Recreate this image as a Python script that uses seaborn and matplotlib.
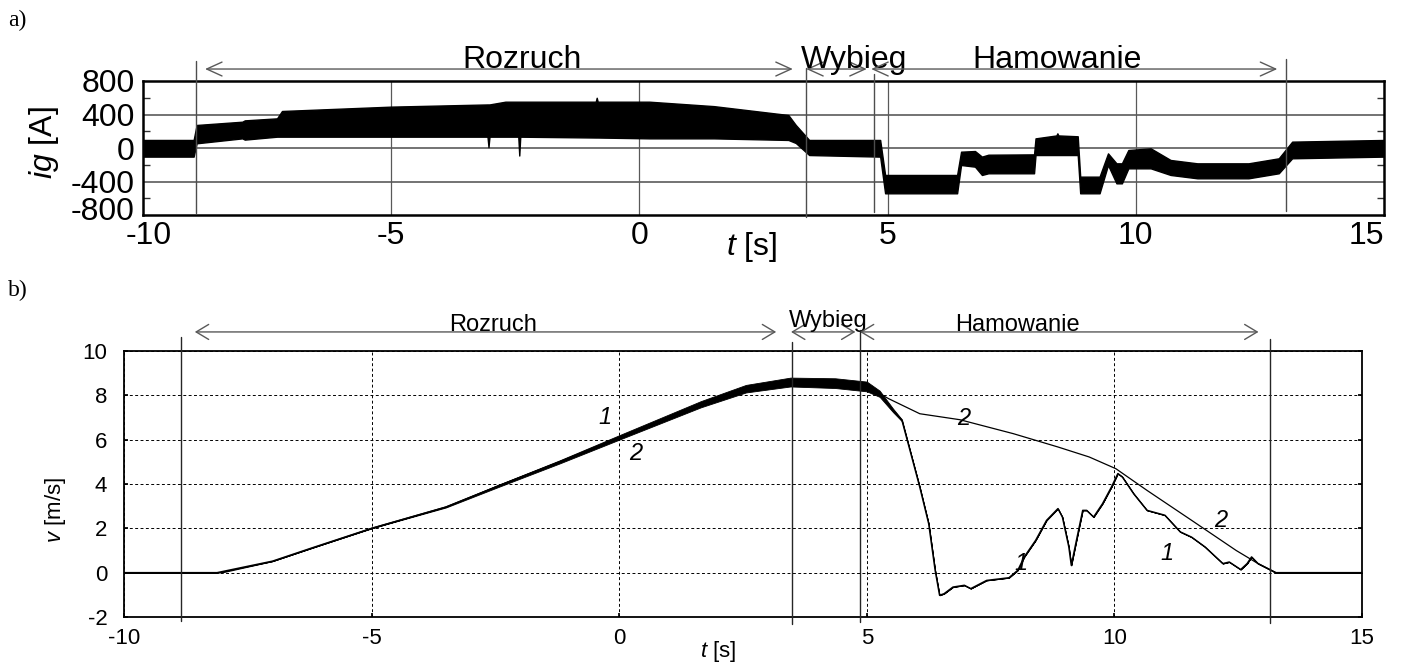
import matplotlib
matplotlib.use("Agg")
import matplotlib.pyplot as plt
import matplotlib.transforms as mtransforms
import seaborn as sns
import numpy as np
import pandas as pd

# ---------------- data ----------------
# a) generator current i_g : upper / lower envelope of the noisy band [A]
t_ig = [-10, -8.98, -8.92, -8.0, -7.95, -7.3, -7.2, -5.0, -3.06, -3.04, -3.02,
        -2.7, -2.44, -2.42, -2.40, -0.88, -0.86, -0.84, 0.2, 1.5, 3.0, 3.15,
        3.42, 4.85, 4.95, 6.4, 6.48, 6.76, 6.9, 7.03, 7.95, 7.98, 8.4, 8.42, 8.44,
        8.83, 8.88, 9.27, 9.44, 9.61, 9.72, 9.85, 10.3, 10.7, 11.24, 12.27, 12.88,
        13.15, 15]
ig_upper = [96, 96, 275, 314, 330, 354, 442, 494, 520, 520, 520,
            553, 553, 553, 553, 553, 600, 553, 553, 500, 394, 275,
            96, 96, -322, -322, -44, -36, -103, -80, -76, 115, 150, 175, 150,
            140, -342, -342, -64, -183, -183, -24, -4, -143, -183, -183, -123,
            76, 96]
ig_lower = [-103, -103, 56, 115, 100, 135, 135, 135, 135, 10, 135,
            135, 135, -90, 135, 125, 125, 125, 115, 115, 96, 60,
            -84, -103, -541, -541, -203, -223, -322, -302, -302, -84, -84, -84, -84,
            -84, -541, -541, -203, -422, -422, -243, -243, -322, -362, -362, -302,
            -123, -103]

# b) speed, curve 1 (measured, noisy) and curve 2 [m/s]
t_v1 = [-10, -8.12, -7.0, -6.2, -5.0, -3.5, -2.4, -1.2, 0, 1.65, 2.56, 3.46, 4.36, 5.0,
        5.26, 5.53, 5.71, 5.89, 6.07, 6.25, 6.38, 6.47, 6.56, 6.74, 6.97, 7.1, 7.42,
        7.87, 8.05, 8.18, 8.41, 8.63, 8.86, 8.95, 9.08, 9.13, 9.22, 9.36, 9.44, 9.58,
        9.76, 9.94, 10.07, 10.16, 10.39, 10.66, 11.02, 11.33, 11.56, 11.83, 12.19,
        12.32, 12.55, 12.68, 12.77, 12.9, 13.26, 15]
v1 = [0, 0, 0.52, 1.12, 2.0, 2.96, 3.95, 5.0, 6.1, 7.6, 8.3, 8.6, 8.55, 8.4,
      8.07, 7.32, 6.87, 5.37, 3.86, 2.21, 0.11, -1.02, -0.95, -0.65, -0.57, -0.72, -0.35,
      -0.23, 0.11, 0.71, 1.46, 2.36, 2.89, 2.51, 1.16, 0.33, 1.31, 2.81, 2.81, 2.51,
      3.11, 3.86, 4.47, 4.32, 3.56, 2.81, 2.59, 1.84, 1.6, 1.16, 0.41,
      0.48, 0.14, 0.41, 0.71, 0.41, 0, 0]
v1_spread = [0, 0, 0, 0, 0, 0.02, 0.05, 0.07, 0.1, 0.14, 0.17, 0.2, 0.22, 0.22,
             0.14, 0.08, 0.04, 0, 0, 0, 0, 0, 0, 0, 0, 0, 0,
             0, 0, 0, 0, 0, 0, 0, 0, 0, 0, 0, 0, 0,
             0, 0, 0, 0, 0, 0, 0, 0, 0, 0, 0,
             0, 0, 0, 0, 0, 0, 0]
t_v2 = [-10, -8.0, -7.0, -6.2, -5.0, -3.5, -2.4, -1.2, 0, 1.65, 2.56, 3.46, 4.36, 5.0,
        5.44, 6.07, 6.88, 7.96, 8.86, 9.49, 10.03, 10.66, 11.56, 12.46, 12.9, 13.26, 15]
v2 = [0, 0, 0.5, 1.1, 2.0, 2.96, 3.95, 5.0, 6.1, 7.6, 8.3, 8.6, 8.55, 8.4,
      7.85, 7.17, 6.9, 6.27, 5.67, 5.22, 4.69, 3.71, 2.36, 1.0, 0.41, 0, 0]

phase_names = ["Rozruch", "Wybieg", "Hamowanie"]
top_bounds = [-8.94, 3.36, 4.73, 13.02]
bot_bounds = [-8.85, 3.49, 4.86, 13.14]
top_arrows = [(-8.75, 3.09), (3.36, 4.58), (4.67, 12.85)]
bot_arrows = [(-8.57, 3.17), (3.47, 4.77), (4.86, 12.91)]

x_ticks = [-10, -5, 0, 5, 10, 15]
ig_ticks = [-800, -400, 0, 400, 800]
v_ticks = [-2, 0, 2, 4, 6, 8, 10]

# ---------------- style ----------------
sns.set_theme(style="white")
plt.rcParams["font.family"] = ["Liberation Sans", "DejaVu Sans"]
plt.rcParams["mathtext.fontset"] = "custom"
plt.rcParams["mathtext.it"] = "Liberation Sans:italic"
plt.rcParams["mathtext.rm"] = "Liberation Sans"
plt.rcParams["axes.unicode_minus"] = False
plt.rcParams["text.color"] = "black"
plt.rcParams["xtick.color"] = "black"
plt.rcParams["ytick.color"] = "black"

W, H = 1402, 668
fig = plt.figure(figsize=(W / 100, H / 100), dpi=100)
fig.patch.set_facecolor("white")


def rect(l, t, r, b):
    return [l / W, 1 - b / H, (r - l) / W, (b - t) / H]


ax1 = fig.add_axes(rect(143, 81, 1384, 215))
ax2 = fig.add_axes(rect(124, 351, 1362, 617))

# ---------------- a) ----------------
ax1.fill_between(t_ig, ig_lower, ig_upper, color="black", lw=1.0,
                 edgecolor="black", zorder=3)
ax1.set_xlim(-10, 15)
ax1.set_ylim(-800, 800)
ax1.set_xticks(x_ticks)
ax1.set_yticks(ig_ticks)
ax1.set_yticks([-600, -200, 200, 600], minor=True)
for y in [-400, 0, 400]:
    ax1.axhline(y, color="0.3", lw=1.1, zorder=1)
for x in [-5, 0, 5, 10]:
    ax1.axvline(x, color="0.35", lw=0.9, zorder=1)
ax1.tick_params(axis="both", which="major", labelsize=23, length=0)
ax1.tick_params(axis="x", which="major", pad=4)
ax1.tick_params(axis="y", which="major", pad=6)
ax1.tick_params(axis="y", which="minor", direction="in", length=5, width=1,
                left=True, right=True, color="0.2")
for sp in ax1.spines.values():
    sp.set_color("black")
    sp.set_linewidth(1.8)

xl = ax1.get_xticklabels()
xl[-1].set_horizontalalignment("right")
xl[0].set_transform(xl[0].get_transform() +
                    mtransforms.ScaledTranslation(6 / 100, 0, fig.dpi_scale_trans))
yl = ax1.get_yticklabels()
yl[0].set_transform(yl[0].get_transform() +
                    mtransforms.ScaledTranslation(0, 7 / 100, fig.dpi_scale_trans))

top_line_ext = [(1039, -776), (955, -824), (884, -764), (1063, -752)]
for tb, (y0, y1) in zip(top_bounds, top_line_ext):
    ax1.plot([tb, tb], [y0, y1], color="0.3", lw=1.0, clip_on=False, zorder=4)

for name, (a0, a1), tx in zip(phase_names, top_arrows, [-2.37, 4.32, 8.41]):
    ax1.annotate("", xy=(a1, 943), xytext=(a0, 943), annotation_clip=False,
                 arrowprops=dict(arrowstyle="<->,head_length=0.55,head_width=0.25",
                                 color="0.35", lw=1.0, shrinkA=0, shrinkB=0,
                                 mutation_scale=20))
    ax1.text(tx, 955, name, ha="center", va="baseline", fontsize=23,
             clip_on=False)

# ---------------- b) ----------------
lo = [v - s for v, s in zip(v1, v1_spread)]
hi = [v + s for v, s in zip(v1, v1_spread)]
ax2.fill_between(t_v1, lo, hi, color="black", lw=0.6, edgecolor="black", zorder=3)
df1 = pd.DataFrame({"t": t_v1, "v": v1})
df2 = pd.DataFrame({"t": t_v2, "v": v2})
sns.lineplot(data=df1, x="t", y="v", ax=ax2, color="black", lw=1.1,
             estimator=None, sort=False, zorder=4)
sns.lineplot(data=df2, x="t", y="v", ax=ax2, color="black", lw=0.9,
             estimator=None, sort=False, zorder=4)
ax2.set_xlim(-10, 15)
ax2.set_ylim(-2, 10)
ax2.set_xticks(x_ticks)
ax2.set_yticks(v_ticks)
ax2.set_xlabel("")
ax2.set_ylabel("")
ax2.grid(True, color="black", lw=0.7, linestyle=(0, (3, 2.5)))
ax2.tick_params(axis="both", which="major", labelsize=16, direction="in",
                length=3, left=True, right=True, bottom=True, top=False)
ax2.tick_params(axis="x", pad=8)
ax2.tick_params(axis="y", pad=12)
for sp in ax2.spines.values():
    sp.set_color("black")
    sp.set_linewidth(1.3)

bot_line_ext = [(10.63, -2.18), (10.41, -2.33), (10.93, -2.22), (10.53, -2.28)]
for tb, (y0, y1) in zip(bot_bounds, bot_line_ext):
    ax2.plot([tb, tb], [y0, y1], color="0.15", lw=1.0, clip_on=False, zorder=4)

for name, (a0, a1), tx, ty in zip(phase_names, bot_arrows, [-2.55, 4.23, 8.04],
                                  [10.92, 11.08, 10.92]):
    ax2.annotate("", xy=(a1, 10.86), xytext=(a0, 10.86), annotation_clip=False,
                 arrowprops=dict(arrowstyle="<->,head_length=0.45,head_width=0.27",
                                 color="0.35", lw=1.0, shrinkA=0, shrinkB=0,
                                 mutation_scale=20))
    ax2.text(tx, ty, name, ha="center", va="baseline", fontsize=17, clip_on=False)

curve_labels = [("1", -0.28, 7.02), ("2", 0.34, 5.37), ("2", 6.95, 6.95),
                ("2", 12.14, 2.36), ("1", 11.06, 0.87), ("1", 8.11, 0.42)]
for s, x, y in curve_labels:
    ax2.text(x, y, s, ha="center", va="center", fontsize=17, style="italic", zorder=5)

# ---------------- figure texts ----------------
fig.text(752 / W, 1 - 247 / H, r"$\mathit{t}$ [s]", ha="center", va="center", fontsize=23)
fig.text(44 / W, 1 - 143 / H, r"$\mathit{ig}$ [A]", ha="center", va="center",
         fontsize=23, rotation=90)
fig.text(718 / W, 1 - 652 / H, r"$\mathit{t}$ [s]", ha="center", va="center", fontsize=16)
fig.text(56 / W, 1 - 510 / H, r"$\mathit{v}$ [m/s]", ha="center", va="center",
         fontsize=16, rotation=90)
fig.text(8 / W, 1 - 20 / H, "a)", ha="left", va="center", fontsize=17,
         family="Liberation Serif")
fig.text(8 / W, 1 - 290 / H, "b)", ha="left", va="center", fontsize=17,
         family="Liberation Serif")

fig.savefig("out.png", dpi=100, facecolor="white")
